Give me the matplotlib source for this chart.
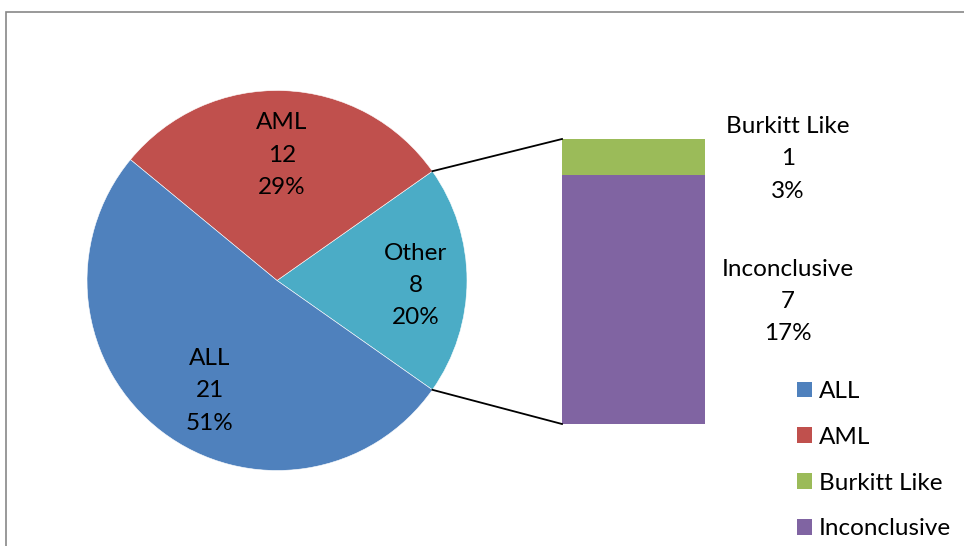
import matplotlib
matplotlib.use("Agg")
import matplotlib.pyplot as plt
import numpy as np
from matplotlib.patches import Rectangle, Patch

# Pie categories (Other is broken out into the bar on the right)
pie_labels = ["Other", "AML", "ALL"]
pie_counts = [8, 12, 21]
pie_pcts = [20, 29, 51]
pie_colors = ["#4BACC6", "#C0504D", "#4F81BD"]

# Breakdown of "Other"
bar_labels = ["Inconclusive", "Burkitt Like"]
bar_counts = [7, 1]
bar_pcts = [17, 3]
bar_colors = ["#8064A2", "#9BBB59"]

legend_labels = ["ALL", "AML", "Burkitt Like", "Inconclusive"]
legend_colors = ["#4F81BD", "#C0504D", "#9BBB59", "#8064A2"]

total = sum(pie_counts)

plt.rcParams["font.family"] = ["Lato", "DejaVu Sans"]
FS = 17.5
LS = 1.66

W, H = 964, 546
fig = plt.figure(figsize=(W / 100, H / 100), dpi=100)
ax = fig.add_axes([0, 0, 1, 1])
# one data unit = pie radius (190 px); pie centred at pixel (277, 280.5)
R = 190.0
cx, cy = 277.0, 280.5

# frame around the chart area
fig.patches.append(Rectangle((5.5 / W, -0.1), 1.2, 1 - 11.5 / H + 0.1,
                             transform=fig.transFigure, fill=False,
                             edgecolor="#878787", linewidth=1.2))

other_angle = pie_counts[0] / total * 360.0
wedges, _ = ax.pie(pie_counts, colors=pie_colors, radius=1.0, center=(0, 0),
                   startangle=-other_angle / 2, counterclock=True,
                   wedgeprops=dict(edgecolor="white", linewidth=0.4),
                   frame=True)
ax.set_xlim(-cx / R, (W - cx) / R)
ax.set_ylim(-(H - cy) / R, cy / R)
ax.set_aspect("auto")
ax.axis("off")

# labels inside the pie slices
label_dist = {"Other": 0.73, "AML": 0.66, "ALL": 0.68}
label_shift = {"Other": -2.0, "AML": 0.0, "ALL": 6.0}
for w, name, n, pct in zip(wedges, pie_labels, pie_counts, pie_pcts):
    mid = np.deg2rad((w.theta1 + w.theta2) / 2 + label_shift[name])
    d = label_dist[name]
    ax.text(d * np.cos(mid), d * np.sin(mid), f"{name}\n{n}\n{pct}%",
            ha="center", va="center", fontsize=FS, linespacing=LS,
            color="black")

# stacked bar for the "Other" breakdown
bar_x0 = (562 - cx) / R
bar_w = (705 - 562) / R
bar_h_total = (424 - 139) / R
scale = bar_h_total / sum(bar_counts)
bar_bottom = -(424 - cy) / R
bottom = bar_bottom
bar_label_x = (788 - cx) / R
for name, n, pct, col in zip(bar_labels, bar_counts, bar_pcts, bar_colors):
    h = n * scale
    ax.bar(bar_x0, h, width=bar_w, bottom=bottom, align="edge", color=col,
           edgecolor="none")
    ax.text(bar_label_x, bottom + h / 2 - 2 / R, f"{name}\n{n}\n{pct}%",
            ha="center", va="center", fontsize=FS, linespacing=LS)
    bottom += h
bar_top = bottom

# connector lines from the "Other" slice to the bar
t1 = np.deg2rad(wedges[0].theta1)
t2 = np.deg2rad(wedges[0].theta2)
ax.plot([np.cos(t2), bar_x0], [np.sin(t2), bar_top], color="black", lw=1.3)
ax.plot([np.cos(t1), bar_x0], [np.sin(t1), bar_bottom], color="black", lw=1.3)

# legend
fs_px = FS * 100 / 72
handles = [Patch(facecolor=c, edgecolor="none") for c in legend_colors]
fig.legend(handles, legend_labels, loc="upper left",
           bbox_to_anchor=(797 / W, 1 - 381 / H), frameon=False,
           fontsize=FS, handlelength=15 / fs_px, handleheight=15 / fs_px,
           handletextpad=7 / fs_px, labelspacing=1.02, borderpad=0,
           borderaxespad=0)

fig.savefig("out.png", dpi=100, facecolor="white")
